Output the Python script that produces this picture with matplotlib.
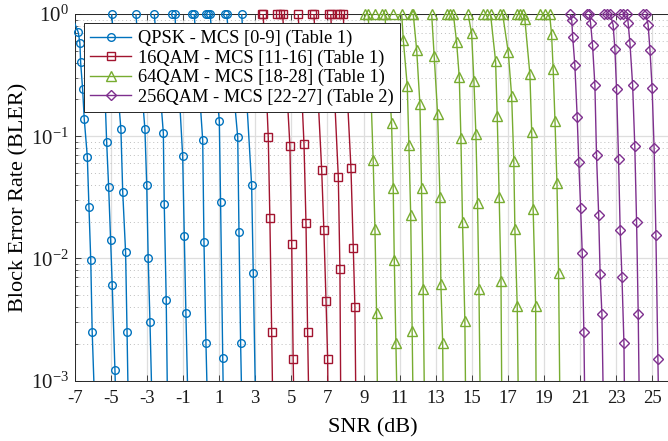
import numpy as np
import matplotlib
matplotlib.use("Agg")
import matplotlib.pyplot as plt
from matplotlib.lines import Line2D
from matplotlib.ticker import LogLocator, NullFormatter

# BLER curves per MCS (SNR in dB)
qpsk_snr = [
    [-7.20, -6.80, -6.71, -6.67, -6.56, -6.47, -6.30, -6.21, -6.11, -6.03, -5.87],
    [-5.45, -5.23, -5.12, -5.01, -4.92, -4.77, -4.70],
    [-4.95, -4.44, -4.34, -4.18, -4.10, -4.02],
    [-3.61, -3.11, -3.01, -2.93, -2.83, -2.70],
    [-2.59, -2.09, -2.04, -1.93, -1.85],
    [-1.63, -1.45, -1.02, -0.93, -0.84, -0.71],
    [-0.52, -0.38, 0.09, 0.16, 0.27, 0.37],
    [0.30, 0.40, 0.50, 1.01, 1.08, 1.20, 1.25],
    [1.32, 1.42, 2.03, 2.10, 2.19, 2.27],
    [2.25, 2.80, 2.89, 3.03],
]
qpsk_bler = [
    [1.0, 0.708, 0.575, 0.402, 0.242, 0.138, 0.068, 0.0265, 0.0097, 0.0025, 5e-4],
    [0.75, 0.090, 0.0386, 0.0141, 0.00606, 0.00122, 5e-4],
    [1.0, 0.114, 0.0351, 0.0112, 0.00251, 5e-4],
    [1.0, 0.114, 0.0399, 0.0101, 0.00303, 5e-4],
    [1.0, 0.106, 0.0277, 0.00457, 5e-4],
    [1.0, 1.0, 0.0689, 0.0153, 0.00356, 5e-4],
    [1.0, 1.0, 0.093, 0.0137, 0.00202, 5e-4],
    [1.0, 1.0, 1.0, 0.133, 0.0291, 0.00152, 5e-4],
    [1.0, 1.0, 0.098, 0.0164, 0.00202, 5e-4],
    [1.0, 0.0399, 0.00764, 5e-4],
]

qam16_snr = [
    [3.35, 3.44, 3.72, 3.81, 3.91, 3.98],
    [4.19, 4.37, 4.52, 4.92, 5.02, 5.10, 5.15],
    [5.38, 5.70, 5.81, 5.90, 5.98],
    [6.12, 6.25, 6.68, 6.80, 6.92, 7.01, 7.04],
    [7.10, 7.18, 7.60, 7.69, 7.74],
    [7.51, 7.69, 7.87, 8.30, 8.43, 8.52, 8.58],
]
qam16_bler = [
    [1.0, 1.0, 0.099, 0.0215, 0.0025, 5e-4],
    [1.0, 1.0, 1.0, 0.0836, 0.0131, 0.0015, 5e-4],
    [1.0, 0.0863, 0.0196, 0.0025, 5e-4],
    [1.0, 1.0, 0.0529, 0.0171, 0.00451, 0.0015, 5e-4],
    [1.0, 1.0, 0.0466, 0.00814, 5e-4],
    [1.0, 1.0, 1.0, 0.0552, 0.0121, 0.00402, 5e-4],
]

qam64_snr = [
    [9.07, 9.26, 9.53, 9.63, 9.72, 9.78],
    [9.63, 10.00, 10.18, 10.55, 10.64, 10.70, 10.79, 10.87],
    [10.64, 11.11, 11.20, 11.42, 11.51, 11.61, 11.69, 11.75],
    [11.66, 11.75, 11.94, 12.12, 12.21, 12.30, 12.38],
    [12.77, 12.91, 13.10, 13.23, 13.28, 13.38, 13.42],
    [13.60, 13.78, 13.97, 14.15, 14.30, 14.39, 14.48, 14.61, 14.66],
    [14.79, 14.98, 15.11, 15.22, 15.31, 15.39, 15.47],
    [15.61, 15.83, 16.03, 16.31, 16.40, 16.51, 16.61, 16.66],
    [16.55, 16.70, 17.01, 17.20, 17.32, 17.38, 17.51, 17.58],
    [17.47, 17.65, 17.85, 17.93, 18.21, 18.31, 18.39, 18.53, 18.56],
    [18.76, 19.04, 19.30, 19.41, 19.50, 19.60, 19.71, 19.80, 19.88],
]
qam64_bler = [
    [1.0, 1.0, 0.0639, 0.0173, 0.00356, 5e-4],
    [1.0, 1.0, 1.0, 0.129, 0.038, 0.0097, 0.00202, 5e-4],
    [1.0, 1.0, 0.613, 0.257, 0.0848, 0.0227, 0.00256, 5e-4],
    [1.0, 1.0, 0.508, 0.183, 0.0375, 0.00559, 5e-4],
    [1.0, 0.453, 0.152, 0.032, 0.00614, 0.00204, 5e-4],
    [1.0, 1.0, 1.0, 0.593, 0.303, 0.0972, 0.0197, 0.00306, 5e-4],
    [1.0, 0.695, 0.285, 0.104, 0.0286, 0.00559, 5e-4],
    [1.0, 1.0, 1.0, 0.412, 0.147, 0.0318, 0.00657, 5e-4],
    [1.0, 1.0, 0.491, 0.214, 0.0627, 0.0173, 0.00408, 5e-4],
    [1.0, 1.0, 1.0, 0.91, 0.323, 0.109, 0.0254, 0.00408, 5e-4],
    [1.0, 1.0, 1.0, 0.69, 0.353, 0.134, 0.0412, 0.00764, 5e-4],
]

qam256_snr = [
    [20.43, 20.53, 20.58, 20.70, 20.83, 20.92, 21.02, 21.11, 21.20, 21.26],
    [21.35, 21.50, 21.57, 21.68, 21.81, 21.90, 22.02, 22.10, 22.20, 22.29],
    [22.29, 22.47, 22.66, 22.82, 22.92, 23.01, 23.12, 23.21, 23.31, 23.42, 23.46],
    [23.19, 23.38, 23.60, 23.65, 23.75, 23.90, 24.02, 24.12, 24.21, 24.28],
    [24.48, 24.63, 24.76, 24.86, 24.98, 25.09, 25.19, 25.30, 25.35],
]
qam256_bler = [
    [1.0, 0.89, 0.652, 0.383, 0.144, 0.0611, 0.026, 0.0111, 0.00251, 5e-4],
    [1.0, 1.0, 0.849, 0.557, 0.263, 0.0702, 0.0227, 0.00745, 0.00351, 5e-4],
    [1.0, 1.0, 1.0, 0.813, 0.514, 0.242, 0.0651, 0.0171, 0.007, 0.00202, 5e-4],
    [1.0, 1.0, 1.0, 0.849, 0.582, 0.263, 0.0832, 0.0197, 0.00351, 5e-4],
    [1.0, 1.0, 0.813, 0.508, 0.247, 0.0796, 0.0155, 0.0015, 5e-4],
]

labels = ["QPSK - MCS [0-9] (Table 1)", "16QAM - MCS [11-16] (Table 1)",
          "64QAM - MCS [18-28] (Table 1)", "256QAM - MCS [22-27] (Table 2)"]
colors = ["#0072BD", "#A2142F", "#77AC30", "#7E2F8E"]
markers = ["o", "s", "^", "D"]
msizes = [5.5, 5.5, 6.5, 5.0]

plt.rcParams["font.family"] = ["Liberation Serif"]
plt.rcParams["mathtext.fontset"] = "stix"
plt.rcParams["axes.unicode_minus"] = False

XMIN, XMAX = -7, 26
YMIN, YMAX = 1e-3, 1

fig = plt.figure(figsize=(6.68, 4.41), dpi=100)
ax = fig.add_axes([0.1118, 0.1367, 0.892, 0.8315])

groups = [(qpsk_snr, qpsk_bler), (qam16_snr, qam16_bler),
          (qam64_snr, qam64_bler), (qam256_snr, qam256_bler)]
for (snrs, blers), c, m, ms in zip(groups, colors, markers, msizes):
    for snr, bler in zip(snrs, blers):
        s = np.array(snr)
        b = np.array(bler)
        ax.plot(s, b, color=c, lw=1.0, zorder=3)
        # markers are not clipped at the frame, the line is
        keep = (s >= XMIN) & (s <= XMAX) & (b >= YMIN)
        ax.plot(s[keep], b[keep], ls="none", marker=m, ms=ms, mfc="none",
                mec=c, mew=1.0, clip_on=False, zorder=3)

ax.set_yscale("log")
ax.set_xlim(XMIN, XMAX)
ax.set_ylim(YMIN, YMAX)
ax.set_xticks(np.arange(-7, 26, 2))
ax.yaxis.set_major_locator(LogLocator(base=10, numticks=10))
ax.yaxis.set_minor_locator(LogLocator(base=10, subs=np.arange(2, 10), numticks=10))
ax.yaxis.set_minor_formatter(NullFormatter())

ax.grid(True, which="major", color="#dedede", lw=0.9, ls="-", zorder=0)
ax.grid(True, which="minor", axis="y", color="#bdbdbd", lw=0.7, ls=(0, (1, 3)), zorder=0)
ax.set_axisbelow(True)

ax.tick_params(which="both", direction="in", top=True, right=False,
               colors="#262626", labelcolor="#1a1a1a", labelsize=13.5)
ax.tick_params(which="major", length=4, width=0.6)
ax.tick_params(which="minor", length=2.5, width=0.5)
ax.tick_params(axis="x", pad=7)
ax.tick_params(axis="y", pad=4, labelsize=15)
for side in ["left", "bottom", "top"]:
    ax.spines[side].set_color("#262626")
    ax.spines[side].set_linewidth(0.7)
ax.spines["right"].set_visible(False)

ax.set_xlabel("SNR (dB)", fontsize=16, labelpad=8)
ax.set_ylabel("Block Error Rate (BLER)", fontsize=16, labelpad=2)

handles = [Line2D([], [], color=c, lw=1.0, marker=m, ms=ms, mfc="none", mec=c, mew=1.0)
           for c, m, ms in zip(colors, markers, msizes)]
leg = ax.legend(handles, labels, loc="upper left", bbox_to_anchor=(0.0156, 0.9746),
                borderaxespad=0, fontsize=13.2, fancybox=False, framealpha=1,
                edgecolor="#262626", handlelength=2.2, handletextpad=0.37,
                borderpad=0.35, labelspacing=0.12)
leg.get_frame().set_linewidth(0.7)
leg.set_zorder(5)

fig.savefig("out.png", dpi=100)
